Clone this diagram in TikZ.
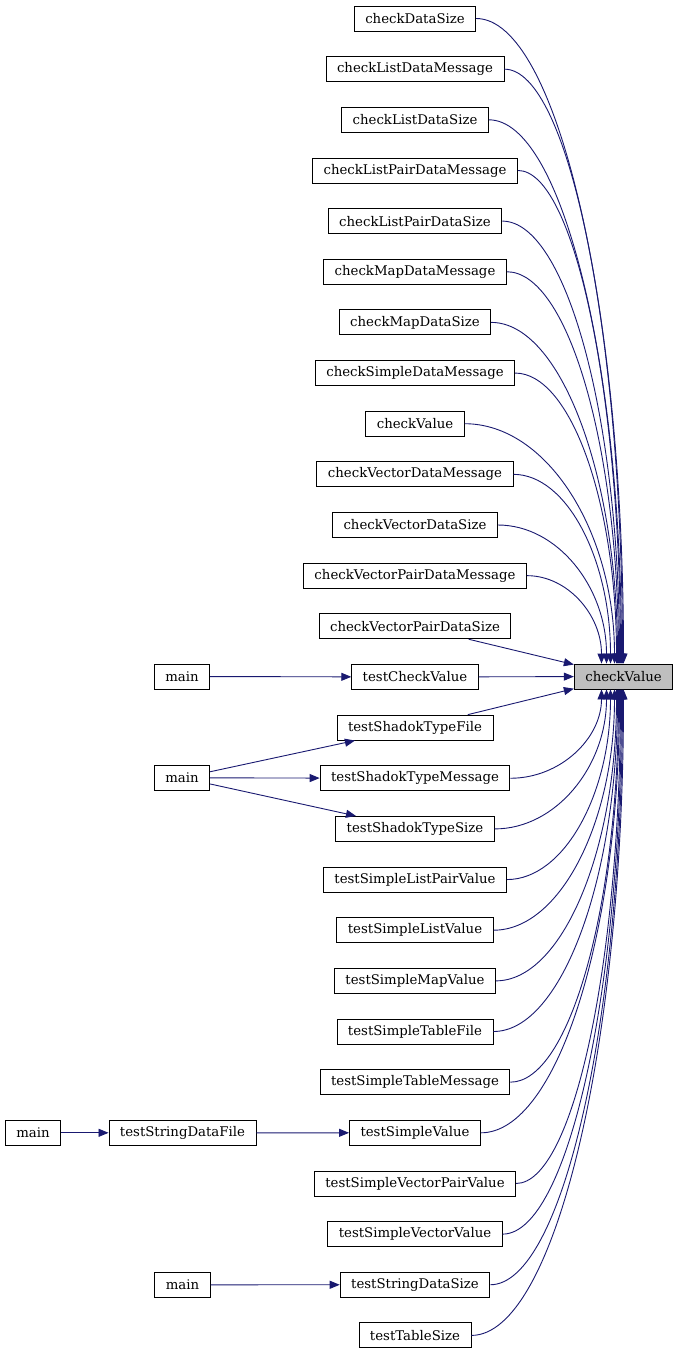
\documentclass[tikz,border=0pt]{standalone}
\usepackage{fontspec}
\setmainfont{DejaVu Serif}
\usetikzlibrary{arrows.meta, calc}

\definecolor{edgeblue}{HTML}{191970}

\begin{document}
\begin{tikzpicture}[x=1pt, y=1pt,
    fn/.style={draw=black, line width=0.9pt, fill=white, minimum height=25pt,
        inner xsep=11pt, inner ysep=0pt, font=\fontsize{13.3}{16}\selectfont},
    edge/.style={draw=edgeblue, line width=0.9pt, -{Triangle[length=10pt, width=8pt]}}]
    \useasboundingbox (0,0) rectangle (679,-1355);

    % Called function
    \node[fn, fill=black!25] (target) at (623.5,-676.5) {checkValue};

    % Callers
    \foreach \id/\t [count=\i from 0] in {cds/checkDataSize, cldm/checkListDataMessage,
        clds/checkListDataSize, clpdm/checkListPairDataMessage, clpds/checkListPairDataSize,
        cmdm/checkMapDataMessage, cmds/checkMapDataSize, csdm/checkSimpleDataMessage,
        cval/checkValue, cvdm/checkVectorDataMessage, cvds/checkVectorDataSize,
        cvpdm/checkVectorPairDataMessage, cvpds/checkVectorPairDataSize,
        tcv/testCheckValue, tstf/testShadokTypeFile, tstm/testShadokTypeMessage,
        tsts/testShadokTypeSize, tslpv/testSimpleListPairValue, tslv/testSimpleListValue,
        tsmv/testSimpleMapValue, tstf2/testSimpleTableFile, tstm2/testSimpleTableMessage,
        tsv/testSimpleValue, tsvpv/testSimpleVectorPairValue, tsvv/testSimpleVectorValue,
        tsds/testStringDataSize, tts/testTableSize} {
        \node[fn] (\id) at (415,{-18.5-50.65*\i}) {\t};
    }

    % Callers of callers
    \node[fn] (mainA) at (182,-676.5) {main};
    \node[fn] (mainB) at (182,-777.8) {main};
    \node[fn] (tsdf) at (182.5,-1132.8) {testStringDataFile};
    \node[fn] (mainC) at (33,-1132.8) {main};
    \node[fn] (mainD) at (182.5,-1284.8) {main};

    % Curved edges into the top of checkValue
    \foreach \src/\dx in {cds/0, cldm/-1, clds/-2, clpdm/-3, clpds/-4, cmdm/-5,
        cmds/-6, csdm/-7, cval/-9, cvdm/-13, cvds/-17, cvpdm/-22} {
        \coordinate (tip) at ($(target.north)+(\dx,0)$);
        \draw[edge] (\src.east) .. controls ($(\src.east)!.55!(\src.east -| tip)$)
            and ($(tip)!.55!(\src.east -| tip)$) .. (tip);
    }

    % Curved edges into the bottom of checkValue
    \foreach \src/\dx in {tstm/-22, tsts/-17, tslpv/-13, tslv/-9, tsmv/-7, tstf2/-6,
        tstm2/-5, tsv/-4, tsvpv/-3, tsvv/-2, tsds/-1, tts/0} {
        \coordinate (tip) at ($(target.south)+(\dx,0)$);
        \draw[edge] (\src.east) .. controls ($(\src.east)!.55!(\src.east -| tip)$)
            and ($(tip)!.55!(\src.east -| tip)$) .. (tip);
    }

    % Straight edges
    \draw[edge] (cvpds) -- (target);
    \draw[edge] (tcv) -- (target);
    \draw[edge] (tstf) -- (target);
    \draw[edge] (mainA) -- (tcv);
    \draw[edge] (mainB) -- (tstf);
    \draw[edge] (mainB) -- (tstm);
    \draw[edge] (mainB) -- (tsts);
    \draw[edge] (mainC) -- (tsdf);
    \draw[edge] (tsdf) -- (tsv);
    \draw[edge] (mainD) -- (tsds);
\end{tikzpicture}
\end{document}
